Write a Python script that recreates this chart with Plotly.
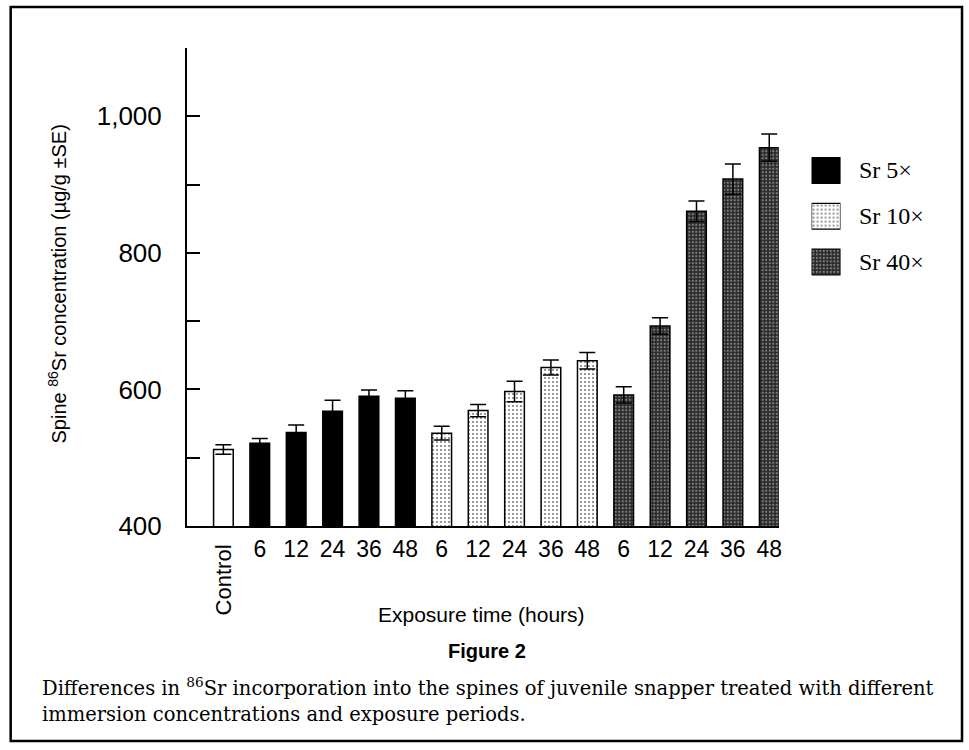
import plotly.graph_objects as go

# ---------------- data ----------------
tick_labels = ["Control", "6", "12", "24", "36", "48",
               "6", "12", "24", "36", "48",
               "6", "12", "24", "36", "48"]
control_value = [512]
control_se = [7]
sr5_values = [521, 537, 568, 590, 587]
sr5_se = [7, 11, 16, 9, 11]
sr10_values = [536, 569, 597, 632, 642]
sr10_se = [10, 9, 15, 11, 12]
sr40_values = [592, 693, 861, 908, 954]
sr40_se = [12, 12, 15, 22, 20]
series_names = ["Sr 5\u00d7", "Sr 10\u00d7", "Sr 40\u00d7"]
y_tick_values = [400, 600, 800, 1000]
y_tick_text = ["400", "600", "800", "1,000"]

# ---------------- geometry helpers (page pixels -> paper) ----------------
W, H = 969, 750
ML, MR, MT, MB = 187, 0, 48, 224
PW, PH = W - ML - MR, H - MT - MB


def px(x):
    return (x - ML) / PW


def py(y):
    return (H - MB - y) / PH


SANS = "Liberation Sans, Arial, Helvetica, sans-serif"
SERIF = "Liberation Serif, Times New Roman, serif"
CAPF = "DejaVu Serif, Century Schoolbook, serif"

styles = [
    dict(color="black", pattern=dict(shape="")),
    dict(color="white", pattern=dict(shape=".", fgcolor="black", bgcolor="white",
                                     size=4, solidity=0.22)),
    dict(color="#2a2a2a", pattern=dict(shape=".", fgcolor="#d8d8d8", bgcolor="#2a2a2a",
                                       size=3.5, solidity=0.3)),
]

fig = go.Figure()

n0 = len(control_value)
fig.add_trace(go.Bar(
    x=list(range(n0)), y=control_value,
    error_y=dict(type="data", array=control_se, color="black", thickness=1.5, width=8),
    marker=dict(color="white", line=dict(color="black", width=1.5)),
    width=0.54, showlegend=False, xaxis="x", yaxis="y",
))

start = n0
for name, vals, se, st in zip(series_names,
                              [sr5_values, sr10_values, sr40_values],
                              [sr5_se, sr10_se, sr40_se], styles):
    xs = list(range(start, start + len(vals)))
    start += len(vals)
    fig.add_trace(go.Bar(
        x=xs, y=vals, name=name,
        error_y=dict(type="data", array=se, color="black", thickness=1.5, width=8),
        marker=dict(color=st["color"], pattern=st["pattern"],
                    line=dict(color="black", width=1.5)),
        width=0.54, showlegend=False, xaxis="x", yaxis="y",
    ))

# legend swatches on a small inset axis
for i, (name, st) in enumerate(zip(series_names, styles)):
    fig.add_trace(go.Bar(
        x=[1], y=[i], orientation="h", base=0,
        marker=dict(color=st["color"], pattern=st["pattern"],
                    line=dict(color="black", width=1.2)),
        width=0.56, showlegend=False, xaxis="x2", yaxis="y2", hoverinfo="skip",
    ))
    fig.add_annotation(x=px(860), xref="paper", y=i, yref="y2", text=name,
                       showarrow=False, xanchor="left", yanchor="middle",
                       font=dict(family=SERIF, size=24, color="black"))

n_total = len(tick_labels)
hour_idx = [i for i, t in enumerate(tick_labels) if t != "Control"]
fig.update_layout(
    width=W, height=H, margin=dict(l=ML, r=MR, t=MT, b=MB),
    paper_bgcolor="white", plot_bgcolor="white",
    barmode="overlay",
    xaxis=dict(domain=[0, px(781)], range=[-1, 15.26],
               tickvals=hour_idx,
               ticktext=[tick_labels[i] for i in hour_idx],
               showline=True, linecolor="black", linewidth=2,
               ticks="", showgrid=False, zeroline=False,
               tickfont=dict(family=SANS, size=23, color="black"),
               ticklabelstandoff=1),
    yaxis=dict(range=[400, 1100], tickvals=y_tick_values, ticktext=y_tick_text,
               showline=True, linecolor="black", linewidth=2,
               ticks="inside", ticklen=13, tickwidth=1.5, tickcolor="black",
               minor=dict(ticks="inside", ticklen=13, tickwidth=1.5, tickcolor="black",
                          tickvals=[500, 700, 900], showgrid=False),
               showgrid=False, zeroline=False,
               tickfont=dict(family=SANS, size=26, color="black"),
               ticklabelstandoff=18),
    xaxis2=dict(domain=[px(814), px(843)], range=[0, 1], visible=False,
                anchor="y2", fixedrange=True),
    yaxis2=dict(domain=[py(284.9), py(147.6)], range=[2.5, -0.5], visible=False,
                anchor="x2", fixedrange=True),
)

# rotated "Control" tick label
fig.add_annotation(x=0, xref="x", y=py(580), yref="paper", text=tick_labels[0],
                   textangle=-90, showarrow=False, xanchor="center", yanchor="middle",
                   font=dict(family=SANS, size=22, color="black"))
# y-axis title
fig.add_annotation(x=px(56), y=py(284), xref="paper", yref="paper",
                   text="Spine <sup>86</sup>Sr concentration (\u00b5g/g \u00b1SE)",
                   textangle=-90, showarrow=False, xanchor="center", yanchor="middle",
                   font=dict(family=SANS, size=20, color="black"))
# x-axis title
fig.add_annotation(x=px(483), y=py(614), xref="paper", yref="paper",
                   text="Exposure time (hours)", showarrow=False,
                   xanchor="center", yanchor="middle",
                   font=dict(family=SANS, size=21, color="black"))
# figure label
fig.add_annotation(x=px(488), y=py(651), xref="paper", yref="paper",
                   text="<b>Figure 2</b>", showarrow=False,
                   xanchor="center", yanchor="middle",
                   font=dict(family=SANS, size=20, color="black"))
# caption
fig.add_annotation(x=px(39), y=py(687), xref="paper", yref="paper",
                   text="Differences in <sup>86</sup>Sr incorporation into the spines of juvenile snapper treated with different",
                   showarrow=False, xanchor="left", yanchor="middle",
                   font=dict(family=CAPF, size=19.5, color="black"))
fig.add_annotation(x=px(39), y=py(714), xref="paper", yref="paper",
                   text="immersion concentrations and exposure periods.",
                   showarrow=False, xanchor="left", yanchor="middle",
                   font=dict(family=CAPF, size=19.5, color="black"))

# frame
fig.add_shape(type="rect", xref="paper", yref="paper",
              x0=px(10), x1=px(965), y0=py(741), y1=py(7),
              line=dict(color="black", width=2.5), fillcolor="rgba(0,0,0,0)", layer="above")

fig.write_html("out.html", config={"displayModeBar": False},
               post_script="document.body.style.margin='0';")
